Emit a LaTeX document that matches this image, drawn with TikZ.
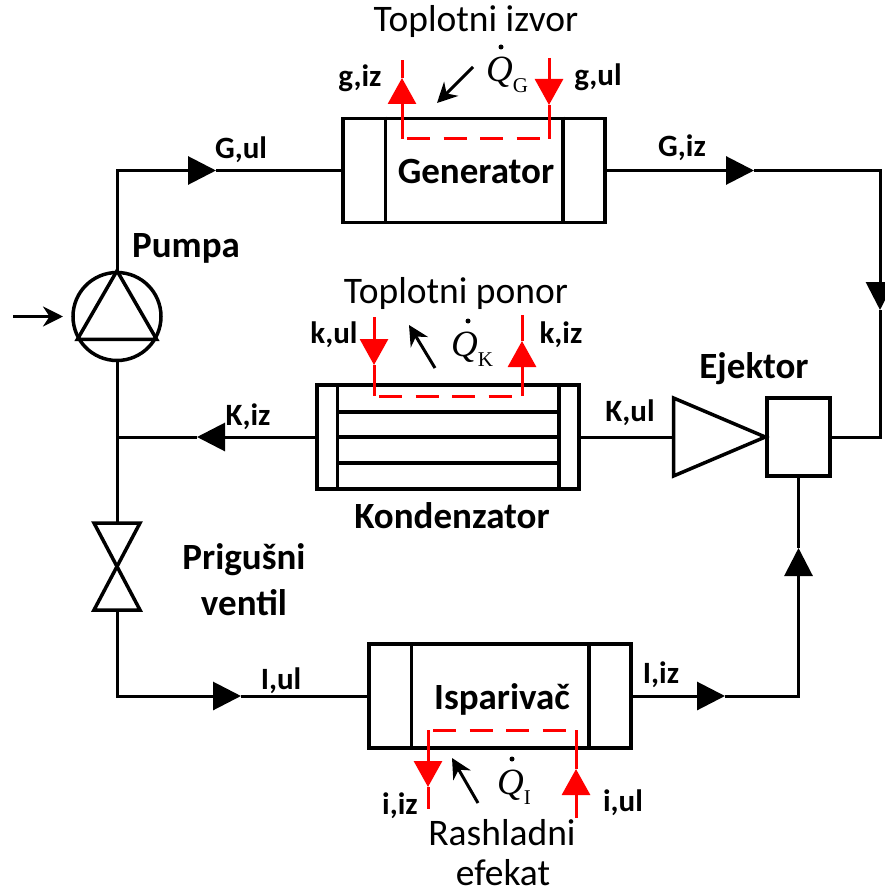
\documentclass[tikz,border=0pt]{standalone}
\usepackage{fontspec}
\setmainfont{Carlito}
\newfontfamily\qfont{Liberation Serif}
\usetikzlibrary{arrows.meta}
\newcommand{\heatflow}[1]{\qfont\itshape Q\raisebox{-0.28em}{\fontsize{21}{21}\selectfont\upshape #1}}

\begin{document}
\begin{tikzpicture}
		[x=1pt,y=-1pt,
		 pipe/.style={line width=3pt},
		 wall/.style={draw,line width=3.5pt,line join=miter},
		 exch/.style={wall,inner sep=0pt,minimum width=262pt},
		 flow/.style={pipe,-{Triangle[length=28pt,width=28pt]}},
		 hot/.style={red,line width=3pt},
		 hotflow/.style={hot,-{Triangle[length=26pt,width=28pt]}},
		 hotdash/.style={hot,dash pattern=on 23pt off 13.5pt,dash phase=31.5pt},
		 heat/.style={line width=3pt,-{Stealth[length=20pt,width=20pt]}},
		 lab/.style={inner sep=0pt,font=\bfseries\fontsize{31}{34}\selectfont},
		 unit/.style={inner sep=0pt,font=\bfseries\fontsize{37}{40}\selectfont},
		 note/.style={inner sep=0pt,font=\fontsize{37.5}{40}\selectfont},
		 qlab/.style={inner sep=0pt,anchor=base west,font=\fontsize{37}{40}\selectfont},
		 qdot/.style={circle,fill,inner sep=0pt,minimum size=5pt}]
	\useasboundingbox (0,0) rectangle (884,890);
	% components
	\node [exch,minimum height=104pt] (gen) at (474,170.5) {};
	\node [exch,minimum height=104pt] (kon) at (448,437) {};
	\node [exch,minimum height=104pt] (isp) at (500,696) {};
	\node [wall,circle,inner sep=0pt,minimum size=88pt] (pump) at (117,316.5) {};
	\node [wall,inner sep=0pt,minimum width=63pt,minimum height=78pt] (ejbox) at (798.5,437) {};
	\foreach \hx/\dx in {gen/44,isp/44,kon/22}{
		\draw [wall] ([xshift=\dx pt]\hx.north west) -- ([xshift=\dx pt]\hx.south west);
		\draw [wall] ([xshift=-\dx pt]\hx.north east) -- ([xshift=-\dx pt]\hx.south east);
	}
	\coordinate (konLa) at (339,412);
	\coordinate (konLb) at (557,412);
	\coordinate (konMa) at (339,437);
	\coordinate (konMb) at (557,437);
	\coordinate (konNa) at (339,463);
	\coordinate (konNb) at (557,463);
	\draw [wall] (konLa) -- (konLb);
	\draw [wall] (konMa) -- (konMb);
	\draw [wall] (konNa) -- (konNb);
	\draw [wall] (pump.north) -- (pump.-30) -- (pump.210) -- cycle;
	% ejector nozzle
	\coordinate (nozTop) at (673.5,398);
	\coordinate (nozIn) at (673.5,437);
	\coordinate (nozBot) at (673.5,476);
	\draw [wall] (nozTop) -- (ejbox.west) -- (nozBot) -- cycle;
	% valve
	\coordinate (valTop) at (117,523);
	\coordinate (valBot) at (117,610);
	\coordinate (valA) at (94,523);
	\coordinate (valB) at (140,523);
	\coordinate (valC) at (94,610);
	\coordinate (valD) at (140,610);
	\draw [wall] (valA) -- (valB) -- (valC) -- (valD) -- cycle;
	% main loop
	\coordinate (guTip) at (216,170.5);
	\coordinate (giTip) at (754,170.5);
	\coordinate (rightTip) at (880,310);
	\coordinate (kiTip) at (197,437);
	\coordinate (juncK) at (117,437);
	\coordinate (iuTip) at (241,696);
	\coordinate (iiTip) at (725,696);
	\coordinate (upTip) at (798.5,548);
	\draw [flow] (pump.north) |- (guTip);
	\draw [pipe] (guTip) -- (gen.west);
	\draw [flow] (gen.east) -- (giTip);
	\draw [flow] (giTip) -| (rightTip);
	\draw [pipe] (rightTip) |- (ejbox.east);
	\draw [pipe] (nozIn) -- (kon.east);
	\draw [flow] (kon.west) -- (kiTip);
	\draw [pipe] (kiTip) -- (juncK);
	\draw [pipe] (pump.south) -- (valTop);
	\draw [flow] (valBot) |- (iuTip);
	\draw [pipe] (iuTip) -- (isp.west);
	\draw [flow] (isp.east) -- (iiTip);
	\draw [flow] (iiTip) -| (upTip);
	\draw [pipe] (upTip) -- (ejbox.south);
	% pump drive
	\coordinate (driveIn) at (13,316.5);
	\coordinate (driveTip) at (63,316.5);
	\draw [heat] (driveIn) -- (driveTip);
	% red lines, generator
	\coordinate (gHa) at (402,139);
	\coordinate (gHb) at (402,78);
	\coordinate (gHc) at (402,60);
	\coordinate (gCa) at (549,58);
	\coordinate (gCb) at (549,105);
	\coordinate (gCc) at (549,139);
	\draw [hotflow] (gHa) -- (gHb);
	\draw [hot] (gHb) -- (gHc);
	\draw [hotflow] (gCa) -- (gCb);
	\draw [hot] (gCb) -- (gCc);
	\draw [hotdash] (gHa) -- (gCc);
	% red lines, kondenzator
	\coordinate (kCa) at (374,317);
	\coordinate (kCb) at (374,365);
	\coordinate (kCc) at (374,396);
	\coordinate (kHa) at (522,396);
	\coordinate (kHb) at (522,341);
	\coordinate (kHc) at (522,315);
	\draw [hotflow] (kCa) -- (kCb);
	\draw [hot] (kCb) -- (kCc);
	\draw [hotflow] (kHa) -- (kHb);
	\draw [hot] (kHb) -- (kHc);
	\draw [hotdash] (kCc) -- (kHa);
	% red lines, isparivac
	\coordinate (iCa) at (428,730);
	\coordinate (iCb) at (428,787);
	\coordinate (iCc) at (428,809);
	\coordinate (iHa) at (576,818);
	\coordinate (iHb) at (576,769);
	\coordinate (iHc) at (576,730);
	\draw [hotflow] (iCa) -- (iCb);
	\draw [hot] (iCb) -- (iCc);
	\draw [hotflow] (iHa) -- (iHb);
	\draw [hot] (iHb) -- (iHc);
	\draw [hotdash] (iCa) -- (iHc);
	% heat arrows
	\coordinate (qGa) at (473,67);
	\coordinate (qGb) at (437,103);
	\coordinate (qKa) at (435,368);
	\coordinate (qKb) at (409,325);
	\coordinate (qIa) at (478,803);
	\coordinate (qIb) at (452,758);
	\draw [heat] (qGa) -- (qGb);
	\draw [heat] (qKa) -- (qKb);
	\draw [heat] (qIa) -- (qIb);
	% texts
	\node [unit] (genT) at (476,172) {Generator};
	\node [unit] (konT) at (452,516) {Kondenzator};
	\node [unit] (ispT) at (502,699) {Isparivač};
	\node [unit] (pumpT) at (186,248) {Pumpa};
	\node [unit] (ejT) at (754,369) {Ejektor};
	\node [unit] (priT) at (244,560) {Prigušni};
	\node [unit] (venT) at (244,603) {ventil};
	\node [note] (izvT) at (476,22) {Toplotni izvor};
	\node [note] (ponT) at (456,294) {Toplotni ponor};
	\node [note] (rasT) at (502,833) {Rashladni};
	\node [note] (efeT) at (503,873) {efekat};
	\node [qlab] (qG) at (486,82) {\heatflow{G}};
	\node [qlab] (qK) at (451,356) {\heatflow{K}};
	\node [qlab] (qI) at (497,794) {\heatflow{I}};
	\node [qdot] (qGdot) at (501,47) {};
	\node [qdot] (qKdot) at (468,321) {};
	\node [qdot] (qIdot) at (512,759) {};
	\node [lab] (guL) at (241,150) {G,ul};
	\node [lab] (giL) at (682,148) {G,iz};
	\node [lab] (kuL) at (630,413) {K,ul};
	\node [lab] (kiL) at (248,417) {K,iz};
	\node [lab] (iuL) at (281,681) {I,ul};
	\node [lab] (iiL) at (661,675) {I,iz};
	\node [lab] (gisL) at (360,78) {g,iz};
	\node [lab] (gusL) at (598,77) {g,ul};
	\node [lab] (kusL) at (334,335) {k,ul};
	\node [lab] (kisL) at (561,335) {k,iz};
	\node [lab] (iisL) at (400,806) {i,iz};
	\node [lab] (iusL) at (623,803) {i,ul};
\end{tikzpicture}
\end{document}
